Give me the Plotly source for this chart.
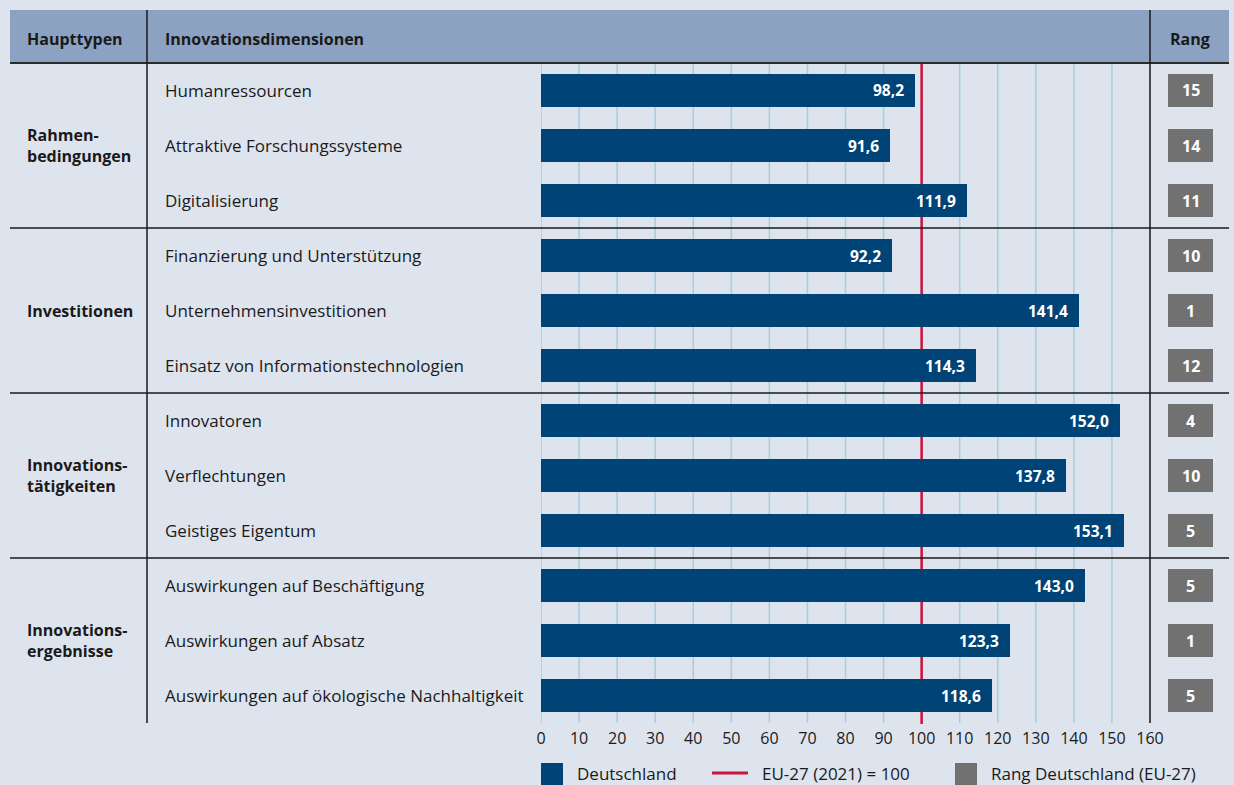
import plotly.graph_objects as go

# --- data -------------------------------------------------------------
dimensions = [
    "Humanressourcen",
    "Attraktive Forschungssysteme",
    "Digitalisierung",
    "Finanzierung und Unterstützung",
    "Unternehmensinvestitionen",
    "Einsatz von Informationstechnologien",
    "Innovatoren",
    "Verflechtungen",
    "Geistiges Eigentum",
    "Auswirkungen auf Beschäftigung",
    "Auswirkungen auf Absatz",
    "Auswirkungen auf ökologische Nachhaltigkeit",
]
values_de = [98.2, 91.6, 111.9, 92.2, 141.4, 114.3, 152.0, 137.8, 153.1, 143.0, 123.3, 118.6]
ranks = [15, 14, 11, 10, 1, 12, 4, 10, 5, 5, 1, 5]
main_types = ["Rahmen-<br>bedingungen", "Investitionen", "Innovations-<br>tätigkeiten", "Innovations-<br>ergebnisse"]
dims_per_type = 3
eu_reference = 100
x_ticks = list(range(0, 161, 10))

# --- styling ----------------------------------------------------------
W, H = 1234, 785
BG = "#dee4ee"
HEADER = "#8ca2c2"
BAR = "#004477"
RED = "#d0103a"
GRID = "#a6cde0"
RANK = "#717171"
TXT = "#1a1a1a"
FONT = "Open Sans"

def px_x(p):
    return p / W

def px_y(p):
    return 1 - p / H

top_px, bottom_px = 63, 723
x0_px, x1_px = 541, 1150
n = len(dimensions)
rows = list(range(n))

fig = go.Figure()
fig.add_trace(go.Bar(
    x=values_de, y=rows, orientation="h", width=0.6,
    marker=dict(color=BAR, line=dict(width=0)),
    hoverinfo="skip", showlegend=False,
))

shapes = []
annotations = []

# header band
shapes.append(dict(type="rect", xref="paper", yref="paper",
                   x0=px_x(10), x1=px_x(1229), y0=px_y(63), y1=px_y(10),
                   fillcolor=HEADER, line=dict(width=0), layer="below"))

# vertical grid at every tick, then the EU-27 reference line on top of it,
# both beneath the bars
for t in x_ticks:
    shapes.append(dict(type="line", xref="x", yref="paper", layer="between",
                       x0=t, x1=t, y0=px_y(bottom_px), y1=px_y(top_px),
                       line=dict(color=GRID, width=1.5)))
shapes.append(dict(type="line", xref="x", yref="paper", layer="between",
                   x0=eu_reference, x1=eu_reference, y0=px_y(bottom_px + 1), y1=px_y(top_px),
                   line=dict(color=RED, width=2.5)))

shapes.append(dict(type="line", xref="paper", yref="paper",
                   x0=px_x(10), x1=px_x(1229), y0=px_y(63), y1=px_y(63),
                   line=dict(color="#2b2b2b", width=2)))
for xp in (147, 1150):
    shapes.append(dict(type="line", xref="paper", yref="paper",
                       x0=px_x(xp), x1=px_x(xp), y0=px_y(bottom_px), y1=px_y(10),
                       line=dict(color="#1a1a1a", width=1.5)))

# group separators
for g in range(1, len(main_types)):
    yv = g * dims_per_type - 0.5
    shapes.append(dict(type="line", xref="paper", yref="y",
                       x0=px_x(10), x1=px_x(1229), y0=yv, y1=yv,
                       line=dict(color="#1a1a1a", width=1.5)))

# header texts
hdr_font = dict(family=FONT, size=16, color=TXT)
for txt, xp, anchor in (("<b>Haupttypen</b>", 25, "left"),
                        ("<b>Innovationsdimensionen</b>", 163, "left"),
                        ("<b>Rang</b>", 1190, "center")):
    annotations.append(dict(text=txt, xref="paper", yref="paper", x=px_x(xp), y=px_y(39),
                            xanchor=anchor, yanchor="middle", showarrow=False, font=hdr_font))

# main types
for g, name in enumerate(main_types):
    yc = g * dims_per_type + (dims_per_type - 1) / 2
    annotations.append(dict(text=f"<b>{name}</b>", xref="paper", yref="y", x=px_x(25), y=yc,
                            xanchor="left", yanchor="middle", align="left", showarrow=False,
                            font=dict(family=FONT, size=16, color=TXT)))

# dimension labels, value labels, rank boxes
for i, (dim, v, r) in enumerate(zip(dimensions, values_de, ranks)):
    annotations.append(dict(text=dim, xref="paper", yref="y", x=px_x(163), y=i,
                            xanchor="left", yanchor="middle", showarrow=False,
                            font=dict(family=FONT, size=17, color=TXT)))
    annotations.append(dict(text=f"<b>{v:.1f}</b>".replace(".", ","), xref="x", yref="y",
                            x=v, y=i, xanchor="right", yanchor="middle", xshift=-9,
                            showarrow=False, font=dict(family=FONT, size=15.5, color="white")))
    shapes.append(dict(type="rect", xref="paper", yref="y",
                       x0=px_x(1168), x1=px_x(1213), y0=i - 0.3, y1=i + 0.3,
                       fillcolor=RANK, line=dict(width=0)))
    annotations.append(dict(text=f"<b>{r}</b>", xref="paper", yref="y", x=px_x(1190.5), y=i,
                            xanchor="center", yanchor="middle", showarrow=False,
                            font=dict(family=FONT, size=16, color="white")))

# legend
leg_y = 773
shapes.append(dict(type="rect", xref="paper", yref="paper",
                   x0=px_x(541), x1=px_x(563), y0=px_y(786), y1=px_y(763),
                   fillcolor=BAR, line=dict(width=0)))
shapes.append(dict(type="line", xref="paper", yref="paper",
                   x0=px_x(712), x1=px_x(748), y0=px_y(leg_y), y1=px_y(leg_y),
                   line=dict(color=RED, width=3)))
shapes.append(dict(type="rect", xref="paper", yref="paper",
                   x0=px_x(955), x1=px_x(977), y0=px_y(786), y1=px_y(763),
                   fillcolor=RANK, line=dict(width=0)))
for txt, xp in (("Deutschland", 575), ("EU-27 (2021) = 100", 760), ("Rang Deutschland (EU-27)", 989)):
    annotations.append(dict(text=txt, xref="paper", yref="paper", x=px_x(xp), y=px_y(leg_y),
                            xanchor="left", yanchor="middle", showarrow=False,
                            font=dict(family=FONT, size=17, color=TXT)))

fig.update_layout(
    width=W, height=H, autosize=False,
    margin=dict(l=0, r=0, t=0, b=0, pad=0, autoexpand=False),
    paper_bgcolor=BG, plot_bgcolor=BG,
    bargap=0,
    shapes=shapes, annotations=annotations,
    xaxis=dict(domain=[px_x(x0_px), px_x(x1_px)], range=[0, 160], automargin=False,
               tickvals=x_ticks, ticktext=[str(t) for t in x_ticks],
               showgrid=False, zeroline=False, showline=False,
               ticks="outside", ticklen=1, tickcolor="rgba(0,0,0,0)",
               tickfont=dict(family=FONT, size=16, color=TXT),
               fixedrange=True),
    yaxis=dict(domain=[px_y(bottom_px), px_y(top_px)], range=[n - 0.5, -0.5], automargin=False,
               showticklabels=False, showgrid=False, zeroline=False, showline=False,
               fixedrange=True),
)

page_fix = ("document.body.style.margin='0';document.body.style.overflow='hidden';"
            "document.documentElement.style.overflow='hidden';")
fig.write_html("out.html", post_script=page_fix)
